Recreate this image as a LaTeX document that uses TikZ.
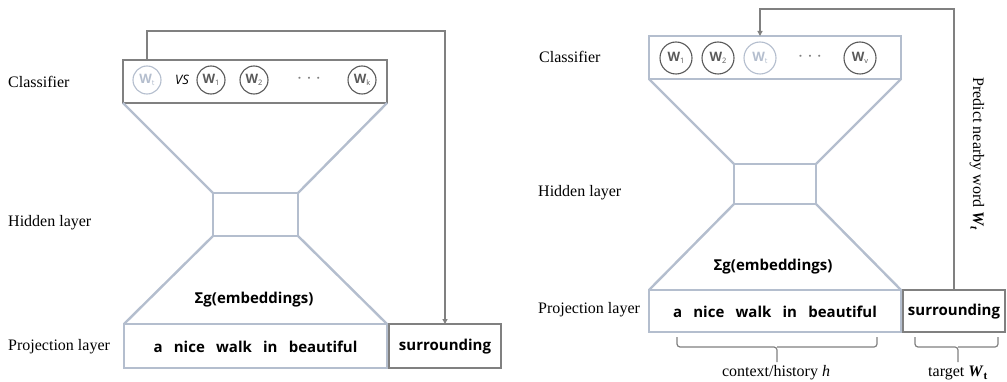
\documentclass[tikz,border=0pt]{standalone}
\usepackage{fontspec}
\setmainfont{Liberation Serif}
\newfontfamily\osans{Open Sans}
\usetikzlibrary{arrows.meta}
\definecolor{lb}{RGB}{180,190,206}
\definecolor{dg}{RGB}{128,128,128}
\definecolor{tg}{RGB}{90,90,90}
\tikzset{
  lbox/.style={draw=lb,line width=2.4pt,outer sep=0pt,inner sep=0pt,fill=white},
  dbox/.style={draw=dg,line width=2.4pt,outer sep=0pt,inner sep=0pt,fill=white},
  trap/.style={draw=lb,line width=2.4pt},
  lbl/.style={font=\fontsize{16}{18}\selectfont,anchor=west,inner sep=0pt},
  bsans/.style={font=\osans\bfseries\fontsize{15}{17}\selectfont,text=black},
  wc/.style={circle,draw=tg,line width=1.1pt,inner sep=0pt,minimum size=#1,
     font=\osans\bfseries\fontsize{13}{14}\selectfont,text=tg},
  wcl/.style={wc=#1,draw=lb,text=lb},
  arr/.style={draw=dg,line width=1.5pt,-{Triangle[length=5pt,width=5pt]}},
  brc/.style={draw=dg,line width=1.2pt,rounded corners=3pt},
  dots/.style={font=\osans\bfseries\fontsize{12}{12}\selectfont,text=dg},
}
\newcommand{\Wsub}[1]{W\raisebox{-2.5pt}{\mdseries\fontsize{7.5}{8}\selectfont #1}}
\begin{document}
\begin{tikzpicture}[x=1pt,y=-1pt]
\useasboundingbox (0,0) rectangle (1007,382);
% ---------------- left panel ----------------
\node[dbox,minimum width=264,minimum height=43] (clsL) at (255,81.5) {};
\node[lbox,minimum width=85,minimum height=43] (hidL) at (255.5,214.5) {};
\node[lbox,minimum width=263,minimum height=44] (projL) at (255.5,346) {};
\node[dbox,minimum width=112,minimum height=44] (surL) at (445,346) {};
\draw[trap] (clsL.south west) -- (hidL.north west);
\draw[trap] (clsL.south east) -- (hidL.north east);
\draw[trap] (hidL.south west) -- (projL.north west);
\draw[trap] (hidL.south east) -- (projL.north east);
\node[wcl=28] (wtL) at (147,80) {\Wsub{t}};
\node[font=\osans\itshape\fontsize{13}{14}\selectfont,text=black] (vsL) at (182,80) {VS};
\node[wc=28] (w1L) at (211,80) {\Wsub{1}};
\node[wc=28] (w2L) at (254,80) {\Wsub{2}};
\node[dots] (dL) at (309,80) {·\hspace{6pt}·\hspace{6pt}·};
\node[wc=28] (wkL) at (362,80) {\Wsub{k}};
\node[bsans] (sigL) at (254,300) {Σg(embeddings)};
\node[bsans] (txtL) at (255.5,347) {a\hspace{0.75em}nice\hspace{0.75em}walk\hspace{0.75em}in\hspace{0.75em}beautiful};
\node[bsans] (stxL) at (445,347) {surrounding};
\coordinate (tL) at (0,31);
\draw[arr] (wtL.center |- clsL.north) -- (wtL.center |- tL) -| (surL.north);
\node[lbl] (cl1) at (8,82) {Classifier};
\node[lbl] (hl1) at (8,223) {Hidden layer};
\node[lbl] (pl1) at (8,347) {Projection layer};
% ---------------- right panel ----------------
\node[lbox,minimum width=252,minimum height=43] (clsR) at (775,57.5) {};
\node[lbox,minimum width=82,minimum height=40] (hidR) at (775,184) {};
\node[lbox,minimum width=252,minimum height=42] (projR) at (775,311) {};
\node[dbox,minimum width=102,minimum height=42] (surR) at (954,311) {};
\draw[trap] (clsR.south west) -- (hidR.north west);
\draw[trap] (clsR.south east) -- (hidR.north east);
\draw[trap] (hidR.south west) -- (projR.north west);
\draw[trap] (hidR.south east) -- (projR.north east);
\node[wc=32] (w1R) at (676,58) {\Wsub{1}};
\node[wc=32] (w2R) at (718,58) {\Wsub{2}};
\node[wcl=32] (wtR) at (760,58) {\Wsub{t}};
\node[dots] (dR) at (810,58) {·\hspace{6pt}·\hspace{6pt}·};
\node[wc=32] (wvR) at (860,58) {\Wsub{v}};
\node[bsans] (sigR) at (773,267) {Σg(embeddings)};
\node[bsans] (txtR) at (775,312) {a\hspace{0.75em}nice\hspace{0.75em}walk\hspace{0.75em}in\hspace{0.75em}beautiful};
\node[bsans] (stxR) at (954,312) {surrounding};
\coordinate (tR) at (0,9);
\draw[arr] (surR.north) -- (surR.north |- tR) -| (wtR.center |- clsR.north);
\node[font=\fontsize{16}{18}\selectfont,rotate=-90,inner sep=0pt] (pred) at (977,154)
  {Predict nearby word \textbf{\textit{W}}\textsubscript{\textbf{\textit{t}}}};
\node[lbl] (cl2) at (539,57) {Classifier};
\node[lbl] (hl2) at (538,193) {Hidden layer};
\node[lbl] (pl2) at (538,310) {Projection layer};
% braces
\coordinate (bc) at (777,347);
\draw[brc] (677,337) |- (bc) -- (777,362);
\draw[brc] (877,337) |- (bc);
\coordinate (bt) at (958,347);
\draw[brc] (915,337) |- (bt) -- (958,362);
\draw[brc] (998,337) |- (bt);
\node[font=\fontsize{16}{18}\selectfont,inner sep=0pt] (ctx) at (776,373) {context/history \textit{h}};
\node[font=\fontsize{16}{18}\selectfont,inner sep=0pt] (tgt) at (958,373) {target \textbf{\textit{W}}\textsubscript{\textbf{t}}};
\end{tikzpicture}
\end{document}
